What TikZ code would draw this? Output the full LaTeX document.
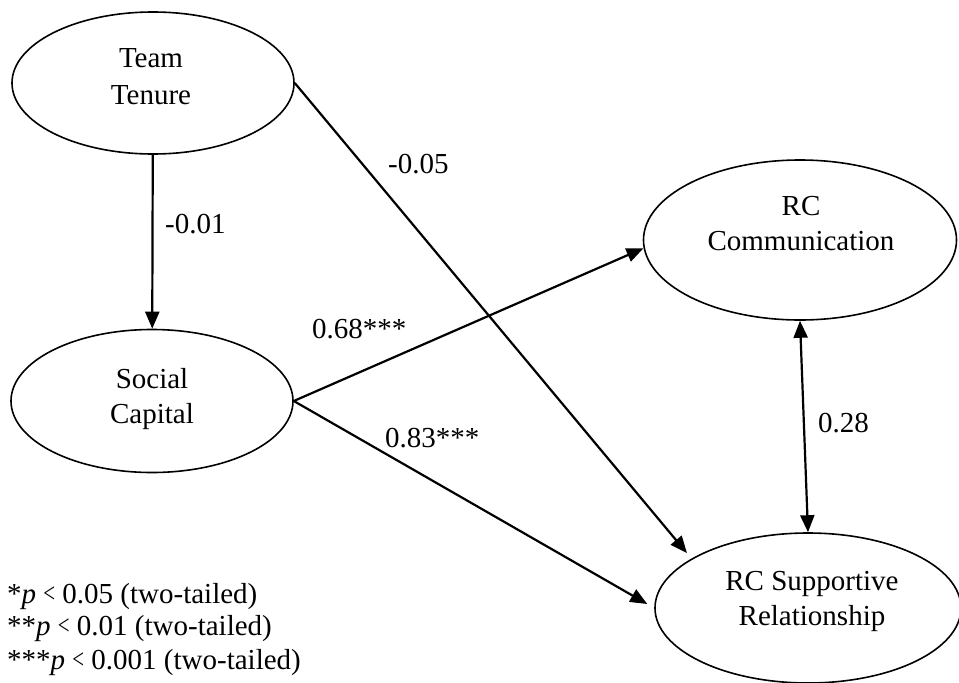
\documentclass[tikz,border=0pt]{standalone}
\usepackage{fontspec}
\setmainfont{Liberation Serif}
\usetikzlibrary{arrows.meta,shapes.geometric}

\tikzset{
  construct/.style={ellipse, draw, line width=1.6pt, inner sep=0pt},
  ctext/.style={align=center, font=\fontsize{29pt}{35pt}\selectfont},
  coef/.style={anchor=base west, inner sep=0pt, font=\fontsize{29pt}{35pt}\selectfont},
  note/.style={anchor=base west, inner sep=0pt, font=\fontsize{29pt}{33pt}\selectfont},
  path/.style={line width=2.2pt, -{Triangle[length=17pt,width=14pt]}},
  corr/.style={line width=2.2pt, {Triangle[length=17pt,width=14pt]}-{Triangle[length=17pt,width=14pt]}}
}
\newcommand{\lessmark}{\raisebox{0.5pt}{\scalebox{0.72}[0.95]{<}}}

\begin{document}
\begin{tikzpicture}[x=1pt,y=-1pt]
  \useasboundingbox (0,0) rectangle (959,683);

  % latent constructs
  \node[construct, minimum width=282pt, minimum height=142pt] (tt)  at (153,83)  {};
  \node[construct, minimum width=282pt, minimum height=143pt] (sc)  at (152,401) {};
  \node[construct, minimum width=313pt, minimum height=160pt] (rcc) at (800,240) {};
  \node[construct, minimum width=306pt, minimum height=150pt] (rcs) at (808,608) {};

  % construct names
  \node[ctext, font=\fontsize{29pt}{37pt}\selectfont] (tttext) at (151,77) {Team\\Tenure};
  \node[ctext] (sctext)  at (152,399) {Social\\Capital};
  \node[ctext] (rcctext) at (801,224) {RC\\Communication};
  \node[ctext] (rcstext) at (812,601) {RC Supportive\\Relationship};

  % structural paths
  \draw[path] (tt) -- (sc);
  \draw[path, shorten >=7pt] (tt.east) -- (rcs.157);
  \draw[path] (sc.east) -- (rcc.183);
  \draw[path, shorten >=8pt] (sc.east) -- (rcs.west);
  \draw[corr] (rcc.south) -- (rcs.north);

  % path coefficients
  \node[coef] (c1) at (165,233) {-0.01};
  \node[coef] (c2) at (388,173) {-0.05};
  \node[coef] (c3) at (312,338) {0.68***};
  \node[coef] (c4) at (385,447) {0.83***};
  \node[coef] (c5) at (818,432) {0.28};

  % significance legend
  \node[note] (n1) at (7,603) {*\textit{p} \lessmark{} 0.05 (two-tailed)};
  \node[note] (n2) at (7,635) {**\textit{p} \lessmark{} 0.01 (two-tailed)};
  \node[note] (n3) at (7,669) {***\textit{p} \lessmark{} 0.001 (two-tailed)};
\end{tikzpicture}
\end{document}
